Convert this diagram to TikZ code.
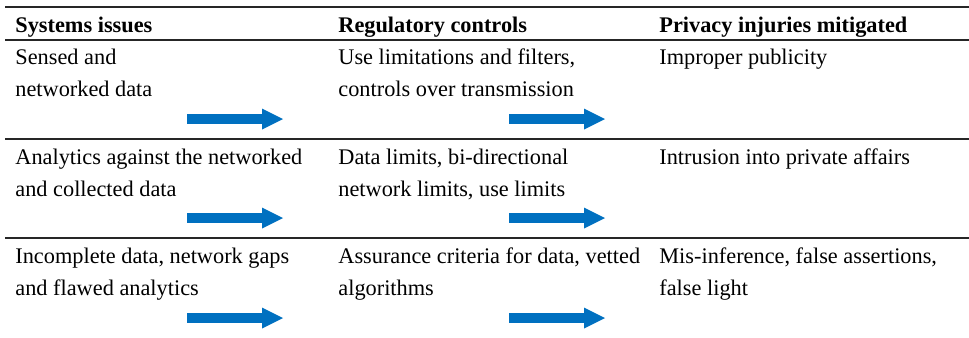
\documentclass[tikz,border=0pt]{standalone}
\usepackage{fontspec}
\setmainfont{Liberation Serif}
\usetikzlibrary{arrows.meta}
\definecolor{arrowblue}{RGB}{0,112,192}

\begin{document}
\begin{tikzpicture}[
        x=0.5bp, y=-0.5bp,
        cell/.style={anchor=base west, inner sep=0pt, align=left, font=\fontsize{11.2}{16}\selectfont},
        head/.style={cell, font=\fontsize{11.2}{16}\selectfont\bfseries},
        rule/.style={draw=black!85, line width=0.55bp},
        toprule/.style={draw=black!85, line width=0.7bp},
        bluearrow/.style={draw=arrowblue, line width=5bp, -{Triangle[length=10.5bp, width=10.5bp, line width=0pt]}}
    ]
    \useasboundingbox (0,0) rectangle (969,337);

    % table rules
    \draw[toprule] (5,7) -- (969,7);
    \draw[rule] (5,40) -- (969,40);
    \draw[rule] (5,139) -- (969,139);
    \draw[rule] (5,238) -- (969,238);

    % header
    \node[head] (h1) at (15,32) {Systems issues};
    \node[head] (h2) at (338,32) {Regulatory controls};
    \node[head] (h3) at (659,32) {Privacy injuries mitigated};

    % first row (base anchor sits on the last line)
    \node[cell] (a1) at (15,96) {Sensed and\\networked data};
    \node[cell] (a2) at (338,96) {Use limitations and filters,\\controls over transmission};
    \node[cell] (a3) at (659,64) {Improper publicity};

    % second row
    \node[cell] (b1) at (15,196) {Analytics against the networked\\and collected data};
    \node[cell] (b2) at (338,196) {Data limits, bi-directional\\network limits, use limits};
    \node[cell] (b3) at (659,164) {Intrusion into private affairs};

    % third row
    \node[cell] (c1) at (15,295) {Incomplete data, network gaps\\and flawed analytics};
    \node[cell] (c2) at (338,295) {Assurance criteria for data, vetted\\algorithms};
    \node[cell] (c3) at (659,295) {Mis-inference, false assertions,\\false light};

    % arrow ends
    \coordinate (a1s) at (187,119);
    \coordinate (a1e) at (283,119);
    \coordinate (a2s) at (509,119);
    \coordinate (a2e) at (605,119);
    \coordinate (b1s) at (187,218);
    \coordinate (b1e) at (283,218);
    \coordinate (b2s) at (509,218);
    \coordinate (b2e) at (605,218);
    \coordinate (c1s) at (187,318);
    \coordinate (c1e) at (283,318);
    \coordinate (c2s) at (509,318);
    \coordinate (c2e) at (605,318);

    \draw[bluearrow] (a1s) -- (a1e);
    \draw[bluearrow] (a2s) -- (a2e);
    \draw[bluearrow] (b1s) -- (b1e);
    \draw[bluearrow] (b2s) -- (b2e);
    \draw[bluearrow] (c1s) -- (c1e);
    \draw[bluearrow] (c2s) -- (c2e);

    \end{tikzpicture}
\end{document}
